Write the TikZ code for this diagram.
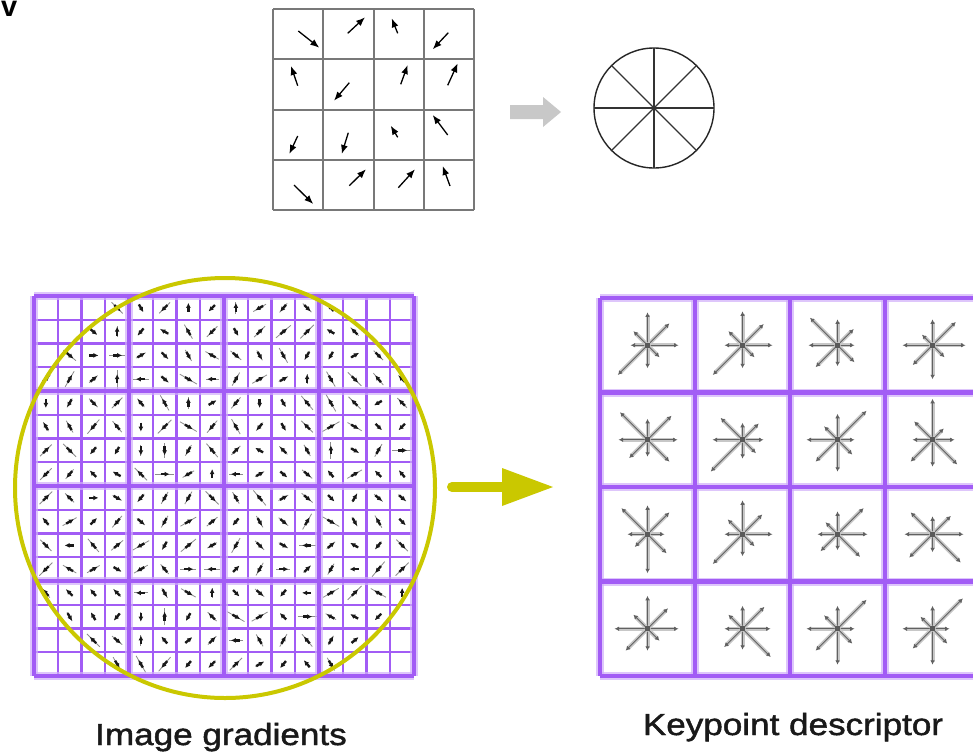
\documentclass[tikz,border=0pt]{standalone}
\usepackage{fontspec}
\newfontfamily\lblfont[FakeStretch=1.15,FakeBold=1.5]{Liberation Sans}
\newfontfamily\vfont{Liberation Sans}
\usetikzlibrary{arrows.meta}
\definecolor{gridpurple}{RGB}{162,92,245}
\definecolor{halopurple}{RGB}{208,175,250}
\definecolor{kyellow}{RGB}{202,200,0}
\definecolor{topgray}{RGB}{120,120,120}
\definecolor{arrowgray}{RGB}{200,200,200}
\newcommand\dstar[9]{%
  \begin{scope}[shift={(#1)}]
    \foreach \a/\l in {0/#2,-45/#3,-90/#4,-135/#5,180/#6,135/#7,90/#8,45/#9}{
      \draw[starbar] (0,0) -- (\a:{\l-3});
      \draw[starline] (0,0) -- (\a:\l);
    }
    \fill[black!65] (-2.5,-2.5) rectangle (2.5,2.5);
  \end{scope}}
\begin{document}
\begin{tikzpicture}[x=1pt,y=-1pt,
  topline/.style={draw=topgray,line width=2},
  tarr/.style={black,line width=1.3,-{Latex[length=9pt,width=7pt]}},
  gtail/.style={black!45,line width=0.8},
  garr/.style={black!90,line width=2.4,-{Latex[length=5pt,width=5pt]}},
  gthin/.style={gridpurple,line width=2.2},
  ghalo/.style={halopurple,line width=8},
  gthick/.style={gridpurple,line width=4.5},
  starbar/.style={black!22,line width=4},
  starline/.style={black!62,line width=0.8,-{Latex[length=4.5pt,width=4.5pt]}},
  lbl/.style={font=\lblfont\fontsize{30.5}{36}\selectfont,text=black!90,inner sep=0}]
\useasboundingbox (0,0) rectangle (973,755);
\clip (0,0) rectangle (973,755);
\fill[white] (0,0) rectangle (973,755);

% partial letter at top left
\node[anchor=base west,inner sep=0,text height=14pt,text depth=0pt,font=\vfont\bfseries\fontsize{29}{30}\selectfont] (vchar) at (1,16) {v};

% ---------- top 4x4 grid ----------
\foreach \k in {0,...,4}{
  \draw[topline] (273+50.25*\k,9) -- (273+50.25*\k,210);
  \draw[topline] (273,9+50.25*\k) -- (474,9+50.25*\k);
}
\draw[tarr] (298.3,31) -- (319.3,47.7);
\draw[tarr] (347.7,33.3) -- (365,17.3);
\draw[tarr] (397.7,33.3) -- (391.7,18.3);
\draw[tarr] (448.3,32.7) -- (432.7,49.3);
\draw[tarr] (297.7,85.7) -- (291,66);
\draw[tarr] (349.3,82.7) -- (334,100.7);
\draw[tarr] (400.7,84.3) -- (407.7,65);
\draw[tarr] (447.7,85.3) -- (457.7,63.3);
\draw[tarr] (297.7,136) -- (289.3,154);
\draw[tarr] (348.3,132.7) -- (341.7,154);
\draw[tarr] (397.7,137.3) -- (390.7,125.7);
\draw[tarr] (447.7,135) -- (432.7,115);
\draw[tarr] (294,185) -- (313.3,204);
\draw[tarr] (349.3,185.7) -- (366,169.3);
\draw[tarr] (398.3,187.7) -- (415,169.3);
\draw[tarr] (450,186) -- (442.7,166);

% gray block arrow
\coordinate (gaS) at (510,112);
\coordinate (gaE) at (561,112);
\fill[arrowgray] (gaS) ++(0,-7) -- ++(33,0) -- ++(0,-8) -- (gaE) -- ++(-18,15) -- ++(0,-8) -- ++(-33,0) -- cycle;

% orientation histogram wheel
\node[draw=black!85,circle,line width=1.4,minimum size=120,inner sep=0,outer sep=0] (wheel) at (654,108) {};
\foreach \a in {0,45,90,135}{
  \draw[black!80,line width=1.2] (wheel.\a) -- (wheel.\a+180);
}

% ---------- image gradients grid ----------
\pgfmathsetseed{31}
\pgfmathdeclarerandomlist{angs}{{45}{40}{225}{230}{135}{130}{315}{320}{60}{240}{120}{300}{0}{180}{90}{270}{30}{210}{150}{330}}
\foreach \i in {0,...,15}{
  \foreach \j in {0,...,15}{
    \pgfmathsetmacro\cx{34+23.75*(\i+0.5)}
    \pgfmathsetmacro\cy{296+23.75*(\j+0.5)}
    \pgfmathrandomitem\ang{angs}
    \pgfmathsetmacro\len{6+14*rnd}
    \pgfmathsetmacro\dd{veclen(\cx-225,\cy-488)}
    \ifdim\dd pt<216pt
      \draw[gtail] (\cx,\cy) ++({\ang+180}:{\len/2}) -- ++(\ang:\len);
      \draw[garr] (\cx,\cy) ++({\ang+180}:4) -- ++(\ang:9);
    \fi
  }
}
\foreach \k in {1,2,3,5,6,7,9,10,11,13,14,15}{
  \draw[gthin] (34+23.75*\k,296) -- (34+23.75*\k,676);
  \draw[gthin] (34,296+23.75*\k) -- (414,296+23.75*\k);
}
\foreach \k in {0,4,8,12,16}{
  \draw[ghalo,opacity=0.7] (34+23.75*\k,296) -- (34+23.75*\k,676);
  \draw[ghalo,opacity=0.7] (34,296+23.75*\k) -- (414,296+23.75*\k);
}
\foreach \k in {0,4,8,12,16}{
  \draw[gthick] (34+23.75*\k,296) -- (34+23.75*\k,676);
  \draw[gthick] (34,296+23.75*\k) -- (414,296+23.75*\k);
}

% yellow region circle
\node[draw=kyellow,circle,line width=4,minimum size=420,inner sep=0,outer sep=0] (roi) at (225,488) {};

% yellow arrow
\coordinate (ya) at (452,487);
\coordinate (yb) at (553,487);
\draw[kyellow,line width=10,line cap=round] (ya) -- (504,487);
\fill[kyellow] (yb) -- ++(-51,-19) -- ++(0,38) -- cycle;

% ---------- keypoint descriptor ----------
\foreach \k in {0,...,4}{
  \draw[ghalo,opacity=0.7] (600+95*\k,298) -- (600+95*\k,676);
  \draw[ghalo,opacity=0.7] (600,298+94.5*\k) -- (980,298+94.5*\k);
}
\foreach \k in {0,...,4}{
  \draw[gthick] (600+95*\k,298) -- (600+95*\k,676);
  \draw[gthick] (600,298+94.5*\k) -- (980,298+94.5*\k);
}
% row 0
\dstar{647.5,345.25}{31}{31}{33}{20}{17}{42}{23}{17}
\dstar{742.5,345.25}{30}{30}{34}{20}{18}{42}{23}{17}
\dstar{837.5,345.25}{17}{23}{26}{39}{29}{31}{21}{24}
\dstar{932.5,345.25}{33}{33}{26}{15}{30}{28}{34}{17}
% row 1
\dstar{647.5,439.75}{30}{34}{21}{39}{29}{26}{17}{31}
\dstar{742.5,439.75}{21}{23}{17}{31}{30}{45}{19}{19}
\dstar{837.5,439.75}{17}{41}{26}{19}{31}{31}{32}{21}
\dstar{932.5,439.75}{22}{16}{41}{26}{20}{31}{27}{35}
% row 2
\dstar{647.5,534.25}{17}{31}{29}{37}{20}{18}{39}{27}
\dstar{742.5,534.25}{30}{28}{34}{21}{18}{42}{22}{17}
\dstar{837.5,534.25}{30}{37}{23}{17}{20}{24}{16}{32}
\dstar{932.5,534.25}{31}{26}{18}{31}{28}{33}{18}{40}
% row 3
\dstar{647.5,628.75}{31}{29}{33}{20}{33}{31}{22}{17}
\dstar{742.5,628.75}{28}{31}{23}{20}{18}{26}{21}{40}
\dstar{837.5,628.75}{17}{41}{23}{19}{31}{31}{36}{21}
\dstar{932.5,628.75}{17}{43}{23}{17}{30}{28}{36}{21}

% labels
\node[lbl,anchor=base] (lblL) at (221,745) {Image gradients};
\node[lbl,anchor=base] (lblR) at (793,735) {Keypoint descriptor};
\end{tikzpicture}
\end{document}
